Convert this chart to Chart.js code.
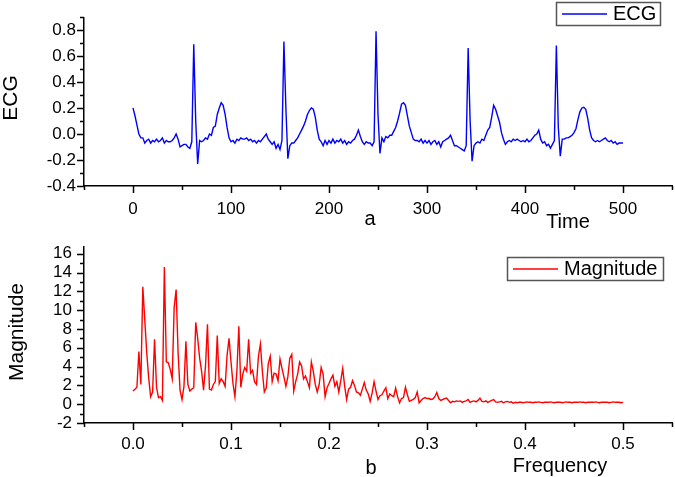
<!DOCTYPE html>
<html>
<head>
<meta charset="utf-8">
<script src="https://cdn.jsdelivr.net/npm/chart.js@4/dist/chart.umd.min.js"></script>
<style>
body { margin: 0; background: #fff; }
canvas { position: absolute; left: 0; }
#ecgChart { top: 0; }
#fftChart { top: 225px; }
</style>
</head>
<body>
<canvas id="ecgChart" width="675" height="230"></canvas>
<canvas id="fftChart" width="675" height="252"></canvas>
<script>
// ECG signal, one value every 2 samples (t = 0, 2, ..., 500)
const ecgStep = 2;
const ecgValues = [
  0.20, 0.14, 0.07, 0.00, -0.03, -0.03, -0.07, -0.05, -0.04, -0.07,
  -0.05, -0.06, -0.04, -0.06, -0.05, -0.03, -0.07, -0.05, -0.06, -0.06,
  -0.05, -0.03, 0.00, -0.04, -0.10, -0.09, -0.08, -0.08, -0.10, -0.11,
  -0.06, 0.69, 0.10, -0.23, -0.05, -0.06, -0.05, -0.03, -0.04, 0.00,
  -0.01, 0.05, 0.06, 0.15, 0.20, 0.24, 0.22, 0.15, 0.05, -0.03,
  -0.06, -0.05, -0.07, -0.04, -0.05, -0.03, -0.04, -0.04, -0.03, -0.05,
  -0.04, -0.06, -0.05, -0.07, -0.05, -0.06, -0.04, -0.02, 0.00, -0.04,
  -0.06, -0.08, -0.06, -0.11, -0.08, -0.12, -0.05, 0.71, 0.20, -0.19,
  -0.09, -0.07, -0.07, -0.05, -0.03, 0.00, 0.03, 0.06, 0.10, 0.15,
  0.18, 0.20, 0.19, 0.13, 0.03, -0.04, -0.06, -0.09, -0.05, -0.08,
  -0.05, -0.07, -0.04, -0.07, -0.05, -0.06, -0.04, -0.07, -0.05, -0.08,
  -0.06, -0.07, -0.05, -0.04, -0.01, 0.03, -0.02, -0.06, -0.08, -0.06,
  -0.07, -0.07, -0.09, -0.06, 0.79, 0.15, -0.15, -0.03, -0.06, -0.02,
  -0.03, -0.01, -0.01, 0.02, 0.05, 0.10, 0.16, 0.23, 0.24, 0.22,
  0.14, 0.06, 0.01, -0.04, -0.05, -0.05, -0.06, -0.04, -0.07, -0.05,
  -0.07, -0.05, -0.08, -0.06, -0.05, -0.08, -0.06, -0.10, -0.06, -0.05,
  -0.04, -0.03, -0.01, -0.05, -0.09, -0.09, -0.10, -0.11, -0.12, -0.13,
  -0.09, 0.66, 0.10, -0.21, -0.09, -0.07, -0.06, -0.07, -0.04, -0.05,
  -0.01, 0.03, 0.05, 0.13, 0.22, 0.19, 0.14, 0.09, 0.01, -0.04,
  -0.08, -0.06, -0.05, -0.06, -0.04, -0.05, -0.04, -0.05, -0.06, -0.05,
  -0.06, -0.04, -0.06, -0.05, -0.03, -0.01, 0.00, 0.03, -0.04, -0.07,
  -0.06, -0.09, -0.08, -0.11, -0.08, -0.05, 0.68, 0.05, -0.17, -0.04,
  -0.04, -0.03, -0.03, -0.02, -0.01, 0.01, 0.04, 0.11, 0.17, 0.20,
  0.205, 0.19, 0.12, 0.03, -0.03, -0.05, -0.06, -0.05, -0.06, -0.05,
  -0.04, -0.03, -0.05, -0.06, -0.05, -0.07, -0.06, -0.08, -0.07, -0.07,
  -0.07
];

// magnitude spectrum, one value every 0.002 (f = 0 ... 0.5)
const freqStep = 0.002;
const magnitudeValues = [
  1.4, 1.6, 1.8, 5.6, 2.1, 12.5, 9.0, 5.5, 2.8, 0.8,
  1.3, 6.9, 1.8, 0.7, 0.8, 0.4, 14.6, 4.5, 4.4, 3.7,
  2.7, 10.3, 12.2, 5.5, 1.5, 0.5, 1.9, 6.7, 2.1, 1.4,
  1.6, 1.75, 8.7, 7.0, 4.9, 3.5, 1.5, 4.1, 8.5, 1.6,
  1.5, 2.1, 2.4, 7.3, 2.2, 2.7, 2.4, 1.9, 5.2, 7.0,
  4.5, 2.2, 0.8, 3.5, 8.3, 1.8, 3.2, 3.9, 3.5, 6.9,
  3.3, 3.6, 2.4, 2.1, 5.1, 6.4, 3.5, 1.3, 1.75, 4.3,
  5.1, 2.4, 3.3, 3.2, 2.5, 4.8, 3.8, 2.9, 1.9, 2.9,
  4.9, 5.3, 1.4, 2.4, 3.2, 4.5, 4.1, 2.7, 3.0, 2.4,
  1.75, 4.5, 3.5, 2.1, 1.3, 2.1, 3.9, 3.2, 0.8, 1.75,
  2.2, 2.7, 3.1, 1.9, 2.4, 1.3, 2.5, 3.8, 1.9, 0.5,
  1.6, 1.8, 2.5, 2.0, 1.3, 1.2, 0.95, 1.6, 2.3, 1.5,
  1.1, 0.3, 1.2, 2.4, 1.4, 0.5, 0.9, 1.0, 1.4, 1.75,
  0.6, 1.1, 0.9, 0.8, 1.7, 0.8, 0.15, 0.6, 0.7, 1.8,
  1.0, 0.3, 0.4, 0.5, 0.7, 1.3, 0.15, 0.4, 0.6, 0.7,
  0.6, 0.6, 0.5, 0.55, 0.8, 1.25, 0.6, 0.4, 0.5, 0.6,
  0.65, 0.4, 0.15, 0.3, 0.25, 0.35, 0.3, 0.35, 0.2, 0.3,
  0.35, 0.5, 0.2, 0.3, 0.35, 0.25, 0.4, 0.65, 0.3, 0.25,
  0.35, 0.2, 0.3, 0.4, 0.5, 0.25, 0.2, 0.25, 0.3, 0.15,
  0.25, 0.3, 0.2, 0.25, 0.1, 0.2, 0.15, 0.2, 0.2, 0.15,
  0.2, 0.25, 0.2, 0.2, 0.15, 0.2, 0.2, 0.25, 0.2, 0.15,
  0.2, 0.2, 0.2, 0.25, 0.2, 0.15, 0.2, 0.2, 0.2, 0.15,
  0.2, 0.25, 0.2, 0.2, 0.15, 0.2, 0.2, 0.2, 0.25, 0.2,
  0.2, 0.15, 0.2, 0.2, 0.2, 0.2, 0.25, 0.2, 0.15, 0.2,
  0.2, 0.2, 0.2, 0.15, 0.2, 0.25, 0.2, 0.2, 0.2, 0.15,
  0.2
];

// tick labels
const timeTicks = [0, 100, 200, 300, 400, 500];
const ecgTicks = [-0.4, -0.2, 0.0, 0.2, 0.4, 0.6, 0.8];
const freqTicks = [0.0, 0.1, 0.2, 0.3, 0.4, 0.5];
const magnitudeTicks = [-2, 0, 2, 4, 6, 8, 10, 12, 14, 16];

const FONT = '"Liberation Sans", Arial, sans-serif';
Chart.defaults.font.family = FONT;
Chart.defaults.color = '#000';

// minor ticks halfway between the major ones, plus one step past each end
function minorTicks(major) {
    const step = major[1] - major[0];
    const out = [major[0] - step / 2];
    major.forEach(v => out.push(v + step / 2));
    return out;
}

// outward tick marks, axis titles and a boxed legend
const decor = {
    id: 'decor',
    afterDraw(chart, args, opts) {
        const ctx = chart.ctx;
        const area = chart.chartArea;
        const xs = chart.scales.x, ys = chart.scales.y;
        ctx.save();
        ctx.strokeStyle = '#000';
        ctx.lineWidth = 1.5;
        ctx.beginPath();
        const xLen = (list, len) => list.forEach(v => {
            const p = Math.round(xs.getPixelForValue(v)) + 0.5;
            if (p < area.left - 1 || p > area.right + 1) return;
            ctx.moveTo(p, area.bottom); ctx.lineTo(p, area.bottom + len);
        });
        const yLen = (list, len) => list.forEach(v => {
            const p = Math.round(ys.getPixelForValue(v)) + 0.5;
            if (p < area.top - 1 || p > area.bottom + 1) return;
            ctx.moveTo(area.left, p); ctx.lineTo(area.left - len, p);
        });
        xLen(opts.xMajor, 7); xLen(minorTicks(opts.xMajor), 4);
        yLen(opts.yMajor, 7); yLen(minorTicks(opts.yMajor), 4);
        ctx.stroke();

        ctx.fillStyle = '#000';
        opts.texts.forEach(t => {
            ctx.save();
            ctx.font = t.size + 'px ' + FONT;
            ctx.textAlign = 'center';
            ctx.textBaseline = 'alphabetic';
            ctx.translate(t.x, t.y);
            if (t.rotate) ctx.rotate(-Math.PI / 2);
            ctx.fillText(t.text, 0, 0);
            ctx.restore();
        });

        const lg = opts.legend;
        const ds = chart.data.datasets[0];
        ctx.strokeStyle = '#555';
        ctx.lineWidth = 1.5;
        ctx.strokeRect(lg.x + 0.5, lg.y + 0.5, lg.w, lg.h);
        ctx.strokeStyle = ds.borderColor;
        ctx.lineWidth = 1.4;
        ctx.beginPath();
        ctx.moveTo(lg.x + 6, lg.y + lg.h / 2 + 0.5);
        ctx.lineTo(lg.x + 51, lg.y + lg.h / 2 + 0.5);
        ctx.stroke();
        ctx.font = '20px ' + FONT;
        ctx.textAlign = 'left';
        ctx.textBaseline = 'middle';
        ctx.fillText(ds.label, lg.x + 57, lg.y + lg.h / 2 + 1);
        ctx.restore();
    }
};

function lineChart(id, o) {
    return new Chart(document.getElementById(id), {
        type: 'line',
        data: {
            datasets: [{
                label: o.label,
                data: o.values.map((v, i) => ({ x: i * o.step, y: v })),
                borderColor: o.color,
                borderWidth: 1.4,
                pointRadius: 0,
                tension: 0,
                fill: false
            }]
        },
        options: {
            responsive: false,
            animation: false,
            layout: { padding: { top: o.padTop, right: 3, left: 0, bottom: 0 } },
            plugins: {
                legend: { display: false },
                tooltip: { enabled: false },
                decor: { xMajor: o.xTicks, yMajor: o.yTicks, texts: o.texts, legend: o.legend }
            },
            scales: {
                x: {
                    type: 'linear', min: o.xMin, max: o.xMax,
                    grid: { display: false, drawTicks: false, tickLength: 0 },
                    border: { color: '#000', width: 1.5 },
                    ticks: { padding: o.xPad, font: { size: 17 }, maxRotation: 0, autoSkip: false,
                             callback: v => o.xFmt(v) },
                    afterBuildTicks: s => { s.ticks = o.xTicks.map(v => ({ value: v })); },
                    afterFit: s => { s.height = o.xHeight; }
                },
                y: {
                    type: 'linear', min: o.yMin, max: o.yMax,
                    grid: { display: false, drawTicks: false, tickLength: 0 },
                    border: { color: '#000', width: 1.5 },
                    ticks: { padding: o.yPad, font: { size: 17 }, autoSkip: false,
                             callback: v => o.yFmt(v) },
                    afterBuildTicks: s => { s.ticks = o.yTicks.map(v => ({ value: v })); },
                    afterFit: s => { s.width = 84; }
                }
            }
        },
        plugins: [decor]
    });
}

lineChart('ecgChart', {
    label: 'ECG', values: ecgValues, step: ecgStep, color: '#0000ff',
    xMin: -50, xMax: 550, yMin: -0.4, yMax: 0.89,
    xTicks: timeTicks, yTicks: ecgTicks,
    xFmt: v => String(v), yFmt: v => v.toFixed(1),
    padTop: 2, xHeight: 44, xPad: 13, yPad: 8,
    texts: [
        { text: 'ECG', x: 17, y: 98, size: 21, rotate: true },
        { text: 'a', x: 370, y: 225, size: 20 },
        { text: 'Time', x: 568, y: 228, size: 20 }
    ],
    legend: { x: 556, y: 2, w: 104, h: 23 }
});

lineChart('fftChart', {
    label: 'Magnitude', values: magnitudeValues, step: freqStep, color: '#ff0000',
    xMin: -0.05, xMax: 0.55, yMin: -2, yMax: 16.7,
    xTicks: freqTicks, yTicks: magnitudeTicks,
    xFmt: v => v.toFixed(1), yFmt: v => String(v),
    padTop: 2, xHeight: 54, xPad: 11, yPad: 12,
    texts: [
        { text: 'Magnitude', x: 23, y: 107, size: 21, rotate: true },
        { text: 'b', x: 371, y: 249, size: 20 },
        { text: 'Frequency', x: 560, y: 247, size: 20 }
    ],
    legend: { x: 507, y: 32, w: 156, h: 23 }
});
</script>
</body>
</html>
